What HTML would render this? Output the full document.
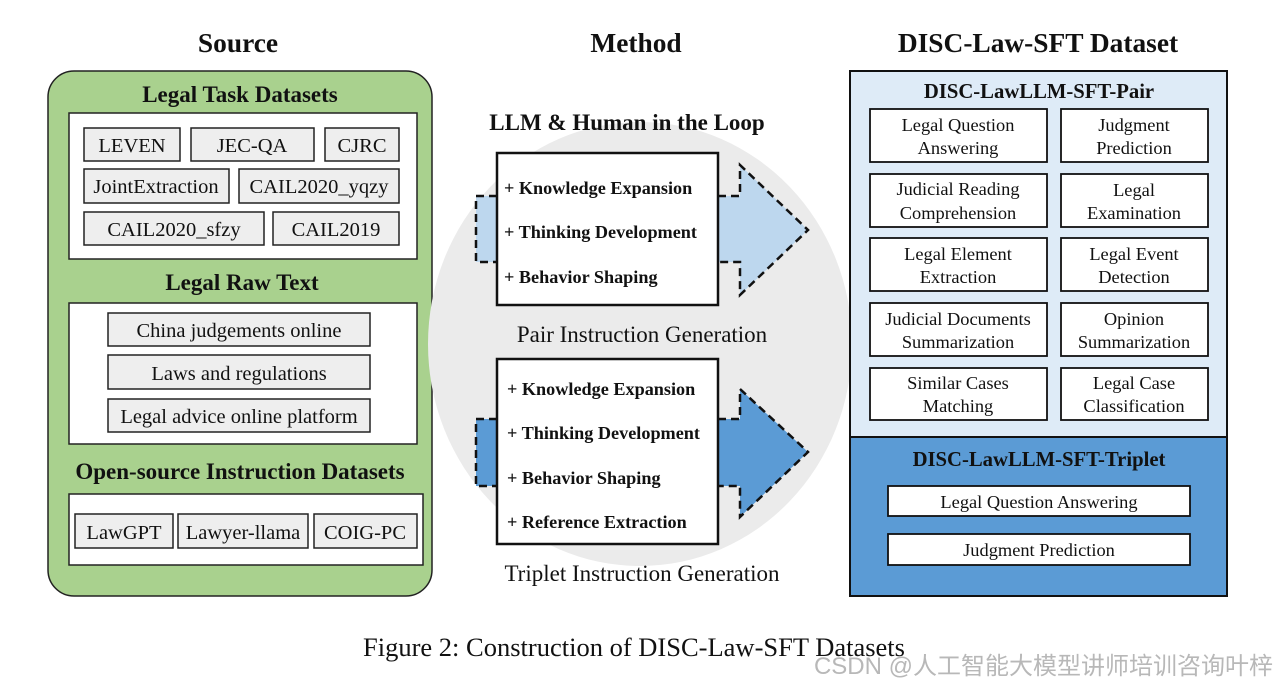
<!DOCTYPE html>
<html><head><meta charset="utf-8"><style>
html,body{margin:0;padding:0;background:#fff;}
svg{display:block;}
text{font-family:"Liberation Serif",serif;fill:#111;}
.b{font-weight:bold;}
</style></head><body>
<svg width="1278" height="688" viewBox="0 0 1278 688" xmlns="http://www.w3.org/2000/svg">
<text x="238" y="52" class="b" font-size="27.4" text-anchor="middle">Source</text>
<text x="636" y="52" class="b" font-size="27.4" text-anchor="middle">Method</text>
<text x="1038" y="52" class="b" font-size="27.4" text-anchor="middle">DISC-Law-SFT Dataset</text>

<rect x="48" y="71" width="384" height="525" rx="26" fill="#a9d18e" stroke="#222" stroke-width="1.5"/>
<text x="240" y="102" class="b" font-size="23" text-anchor="middle">Legal Task Datasets</text>
<rect x="69" y="113" width="348" height="146" fill="#fff" stroke="#222" stroke-width="1.5"/>
<g fill="#eeeeee" stroke="#222" stroke-width="1.5">
<rect x="84" y="128" width="96" height="33"/><rect x="191" y="128" width="123" height="33"/><rect x="325" y="128" width="74" height="33"/>
<rect x="84" y="169" width="145" height="34"/><rect x="239" y="169" width="160" height="34"/>
<rect x="84" y="212" width="180" height="33"/><rect x="273" y="212" width="126" height="33"/>
</g>
<g font-size="20.5" text-anchor="middle">
<text x="132" y="152">LEVEN</text><text x="252" y="152">JEC-QA</text><text x="362" y="152">CJRC</text>
<text x="156" y="193">JointExtraction</text><text x="319" y="193">CAIL2020_yqzy</text>
<text x="174" y="236">CAIL2020_sfzy</text><text x="336" y="236">CAIL2019</text>
</g>
<text x="242" y="290" class="b" font-size="23" text-anchor="middle">Legal Raw Text</text>
<rect x="69" y="303" width="348" height="141" fill="#fff" stroke="#222" stroke-width="1.5"/>
<g fill="#eeeeee" stroke="#222" stroke-width="1.5">
<rect x="108" y="313" width="262" height="33"/><rect x="108" y="355" width="262" height="34"/><rect x="108" y="399" width="262" height="33"/>
</g>
<g font-size="20.5" text-anchor="middle">
<text x="239" y="337">China judgements online</text>
<text x="239" y="380">Laws and regulations</text>
<text x="239" y="423">Legal advice online platform</text>
</g>
<text x="240" y="479" class="b" font-size="23" text-anchor="middle">Open-source Instruction Datasets</text>
<rect x="69" y="494" width="354" height="71" fill="#fff" stroke="#222" stroke-width="1.5"/>
<g fill="#eeeeee" stroke="#222" stroke-width="1.5">
<rect x="75" y="514" width="98" height="34"/><rect x="178" y="514" width="130" height="34"/><rect x="314" y="514" width="103" height="34"/>
</g>
<g font-size="20.5" text-anchor="middle">
<text x="124" y="539">LawGPT</text><text x="243" y="539">Lawyer-llama</text><text x="365" y="539">COIG-PC</text>
</g>

<ellipse cx="640" cy="344" rx="212" ry="222" fill="#ebebeb"/>
<text x="627" y="130" class="b" font-size="23" text-anchor="middle">LLM &amp; Human in the Loop</text>
<rect x="476" y="196" width="22" height="66" fill="#bdd7ee"/>
<path d="M497 196 H476 V262 H497" fill="none" stroke="#111" stroke-width="2.5" stroke-dasharray="8,5"/>
<path d="M718 196 H740 V165 L808 230 L740 295 V262 H718 Z" fill="#bdd7ee"/>
<path d="M718 196 H740 V165 L808 230 L740 295 V262 H718" fill="none" stroke="#111" stroke-width="2.5" stroke-dasharray="8,5"/>
<rect x="497" y="153" width="221" height="152" fill="#fff" stroke="#111" stroke-width="2.5"/>
<g font-size="18.2" font-weight="bold">
<text x="504" y="194">+ Knowledge Expansion</text>
<text x="504" y="238">+ Thinking Development</text>
<text x="504" y="283">+ Behavior Shaping</text>
</g>
<text x="642" y="342" font-size="23" text-anchor="middle">Pair Instruction Generation</text>
<rect x="476" y="419" width="22" height="67" fill="#5b9bd5"/>
<path d="M497 419 H476 V486 H497" fill="none" stroke="#111" stroke-width="2.5" stroke-dasharray="8,5"/>
<path d="M718 419 H740 V389 L808 452 L740 517 V486 H718 Z" fill="#5b9bd5"/>
<path d="M718 419 H740 V389 L808 452 L740 517 V486 H718" fill="none" stroke="#111" stroke-width="2.5" stroke-dasharray="8,5"/>
<rect x="497" y="359" width="221" height="185" fill="#fff" stroke="#111" stroke-width="2.5"/>
<g font-size="18.2" font-weight="bold">
<text x="507" y="395">+ Knowledge Expansion</text>
<text x="507" y="439">+ Thinking Development</text>
<text x="507" y="484">+ Behavior Shaping</text>
<text x="507" y="528">+ Reference Extraction</text>
</g>
<text x="642" y="581" font-size="23" text-anchor="middle">Triplet Instruction Generation</text>

<rect x="850" y="71" width="377" height="366" fill="#deebf7"/>
<rect x="850" y="437" width="377" height="159" fill="#5b9bd5"/>
<rect x="850" y="71" width="377" height="525" fill="none" stroke="#111" stroke-width="2"/>
<line x1="850" y1="437" x2="1227" y2="437" stroke="#111" stroke-width="2"/>
<text x="1039" y="98" class="b" font-size="20.7" text-anchor="middle">DISC-LawLLM-SFT-Pair</text>
<g fill="#fff" stroke="#111" stroke-width="1.8">
<rect x="870" y="109" width="177" height="53"/><rect x="1061" y="109" width="147" height="53"/>
<rect x="870" y="174" width="177" height="53"/><rect x="1061" y="174" width="147" height="53"/>
<rect x="870" y="238" width="177" height="53"/><rect x="1061" y="238" width="147" height="53"/>
<rect x="870" y="303" width="177" height="53"/><rect x="1061" y="303" width="147" height="53"/>
<rect x="870" y="368" width="177" height="52"/><rect x="1061" y="368" width="147" height="52"/>
</g>
<g font-size="18.4" text-anchor="middle">
<text x="958" y="131">Legal Question</text><text x="958" y="154">Answering</text>
<text x="1134" y="131">Judgment</text><text x="1134" y="154">Prediction</text>
<text x="958" y="195">Judicial Reading</text><text x="958" y="219">Comprehension</text>
<text x="1134" y="196">Legal</text><text x="1134" y="219">Examination</text>
<text x="958" y="260">Legal Element</text><text x="958" y="283">Extraction</text>
<text x="1134" y="260">Legal Event</text><text x="1134" y="283">Detection</text>
<text x="958" y="325">Judicial Documents</text><text x="958" y="348">Summarization</text>
<text x="1134" y="325">Opinion</text><text x="1134" y="348">Summarization</text>
<text x="958" y="389">Similar Cases</text><text x="958" y="412">Matching</text>
<text x="1134" y="389">Legal Case</text><text x="1134" y="412">Classification</text>
</g>
<text x="1039" y="466" class="b" font-size="20.7" text-anchor="middle">DISC-LawLLM-SFT-Triplet</text>
<g fill="#fff" stroke="#111" stroke-width="1.8">
<rect x="888" y="486" width="302" height="30"/><rect x="888" y="534" width="302" height="31"/>
</g>
<g font-size="18.4" text-anchor="middle">
<text x="1039" y="508">Legal Question Answering</text>
<text x="1039" y="556">Judgment Prediction</text>
</g>

<text x="634" y="656" font-size="26.5" text-anchor="middle">Figure 2: Construction of DISC-Law-SFT Datasets</text>
<text x="1273" y="674" font-size="24" text-anchor="end" style="font-family:'Liberation Sans','Noto Sans CJK SC',sans-serif;fill:#b8b8b8">CSDN @人工智能大模型讲师培训咨询叶梓</text>
</svg>
</body></html>
